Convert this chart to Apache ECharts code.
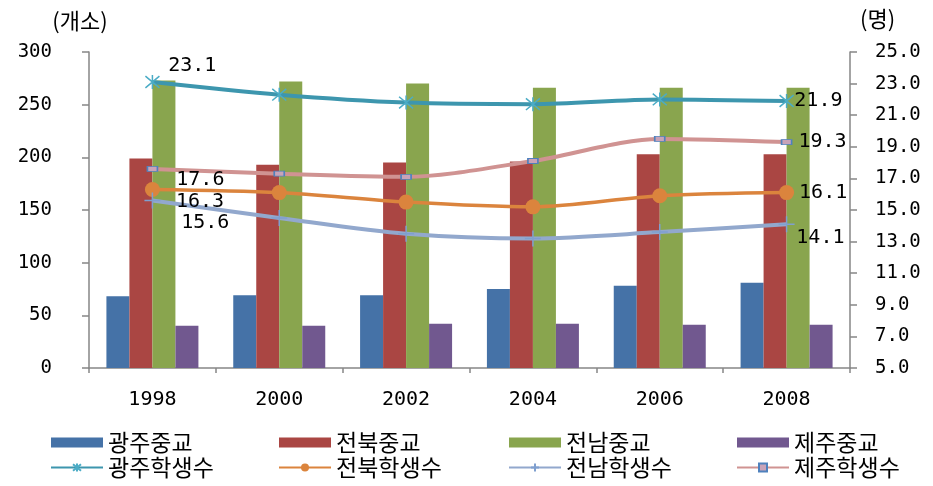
<!DOCTYPE html>
<html>
<head>
<meta charset="utf-8">
<script src="https://cdn.jsdelivr.net/npm/echarts@6/dist/echarts.min.js"></script>
<style>
html,body{margin:0;padding:0;background:#fff;}
#chart{width:933px;height:486px;}
</style>
</head>
<body>
<div id="chart"></div>
<script>
const categories = ['1998', '2000', '2002', '2004', '2006', '2008'];
const gwangjuSchools = [68, 69, 69, 75, 78, 81];
const jeonbukSchools = [199, 193, 195, 196, 203, 203];
const jeonnamSchools = [273, 272, 270, 266, 266, 266];
const jejuSchools = [40, 40, 42, 42, 41, 41];
const gwangjuStudents = [23.1, 22.3, 21.8, 21.7, 22.0, 21.9];
const jeonbukStudents = [16.3, 16.1, 15.5, 15.2, 15.9, 16.1];
const jeonnamStudents = [15.6, 14.5, 13.5, 13.2, 13.6, 14.1];
const jejuStudents = [17.6, 17.3, 17.1, 18.1, 19.5, 19.3];
const barNames = ['광주중교', '전북중교', '전남중교', '제주중교'];
const lineNames = ['광주학생수', '전북학생수', '전남학생수', '제주학생수'];
const leftAxisName = '(개소)';
const rightAxisName = '(명)';
const leftTicks = [0, 50, 100, 150, 200, 250, 300];
const rightTicks = [5, 7, 9, 11, 13, 15, 17, 19, 21, 23, 25];

const barColors = ['#4572A7', '#AA4643', '#89A54E', '#71588F'];
const lineColors = ['#3D96AE', '#DB843D', '#92A8CD', '#D09392'];
const monoFont = 'DejaVu Sans Mono';
const krFont = 'Noto Sans CJK KR';

function labeled(values, firstOffset, lastOffset) {
  const last = values.length - 1;
  return values.map((v, i) => {
    if (i === 0) return { value: v, label: { show: true, offset: firstOffset } };
    if (i === last) return { value: v, label: { show: true, offset: lastOffset } };
    return v;
  });
}

const labelStyle = {
  show: false, position: 'right', distance: 5,
  fontFamily: monoFont, fontSize: 20, color: '#000',
  formatter: p => Number(p.value).toFixed(1)
};

const barData = [gwangjuSchools, jeonbukSchools, jeonnamSchools, jejuSchools];
const series = barData.map((d, i) => ({
  name: barNames[i], type: 'bar', yAxisIndex: 0,
  barWidth: 23, barGap: '0%',
  itemStyle: { color: barColors[i] },
  data: d, z: 2
}));

series.push({
  name: lineNames[0], type: 'line', yAxisIndex: 1, smooth: 0.3, z: 5,
  symbol: 'path://M0,0L10,10M10,0L0,10M5,-1L5,11', symbolSize: 14,
  lineStyle: { color: lineColors[0], width: 4 },
  itemStyle: { color: lineColors[0], borderColor: '#4BACC6', borderWidth: 1.5 },
  label: labelStyle,
  data: labeled(gwangjuStudents, [3, -16], [-5, 0])
});
series.push({
  name: lineNames[1], type: 'line', yAxisIndex: 1, smooth: 0.3, z: 5,
  symbol: 'circle', symbolSize: 15,
  lineStyle: { color: lineColors[1], width: 3.5 },
  itemStyle: { color: lineColors[1], borderWidth: 0 },
  label: labelStyle,
  data: labeled(jeonbukStudents, [11, 12], [0, 0])
});
series.push({
  name: lineNames[2], type: 'line', yAxisIndex: 1, smooth: 0.3, z: 5,
  symbol: 'path://M5,0L5,10M0,5L10,5', symbolSize: 16,
  lineStyle: { color: lineColors[2], width: 4 },
  itemStyle: { color: lineColors[2], borderColor: '#7F9FCF', borderWidth: 1.5 },
  label: labelStyle,
  data: labeled(jeonnamStudents, [15, 22], [-4, 14])
});
series.push({
  name: lineNames[3], type: 'line', yAxisIndex: 1, smooth: 0.3, z: 5,
  symbol: 'rect', symbolSize: [10, 5],
  lineStyle: { color: lineColors[3], width: 4 },
  itemStyle: { color: '#C9A3B8', borderColor: '#4F81BD', borderWidth: 1.2 },
  label: labelStyle,
  data: labeled(jejuStudents, [13, 11], [1, 0])
});

const legendLefts = [50, 278, 508, 736];
const legends = barNames.map((b, i) => ({
  orient: 'vertical', left: legendLefts[i], top: 431, padding: 0,
  itemWidth: 52, itemHeight: 10, itemGap: 2,
  data: [{ name: b, icon: 'rect' }, { name: lineNames[i] }],
  textStyle: { fontFamily: krFont, fontSize: 23, lineHeight: 23, color: '#000' }
}));

const axisLineStyle = { color: '#868686', width: 1.5 };

const option = {
  animation: false,
  backgroundColor: '#fff',
  grid: { left: 89, right: 83, top: 52, bottom: 118 },
  legend: legends,
  xAxis: {
    type: 'category', data: categories, boundaryGap: true,
    axisLine: { lineStyle: axisLineStyle },
    axisTick: { show: true, length: 5, lineStyle: axisLineStyle },
    axisLabel: { fontFamily: monoFont, fontSize: 20, color: '#000', margin: 22 }
  },
  yAxis: [
    {
      type: 'value', min: 0, max: 300, interval: 50, position: 'left',
      name: leftAxisName, nameLocation: 'end', nameGap: 20,
      nameTextStyle: { fontFamily: krFont, fontSize: 22, color: '#000', align: 'center', padding: [0, 18, 0, 0] },
      axisLine: { show: true, lineStyle: axisLineStyle },
      axisTick: { show: true, length: 7, lineStyle: axisLineStyle, customValues: leftTicks },
      axisLabel: { fontFamily: monoFont, fontSize: 19, color: '#000', margin: 37, customValues: leftTicks },
      splitLine: { show: false }
    },
    {
      type: 'value', min: 5, max: 25, interval: 1, position: 'right',
      name: rightAxisName, nameLocation: 'end', nameGap: 22,
      nameTextStyle: { fontFamily: krFont, fontSize: 22, color: '#000', align: 'left', padding: [0, 0, 0, 10] },
      axisLine: { show: true, lineStyle: axisLineStyle },
      axisTick: { show: true, length: 7, lineStyle: axisLineStyle, customValues: rightTicks },
      axisLabel: { fontFamily: monoFont, fontSize: 19, color: '#000', margin: 25, customValues: rightTicks,
        formatter: v => Number(v).toFixed(1) },
      splitLine: { show: false }
    }
  ],
  series: series
};

const chart = echarts.init(document.getElementById('chart'), null, { renderer: 'canvas' });
chart.setOption(option);
</script>
</body>
</html>
